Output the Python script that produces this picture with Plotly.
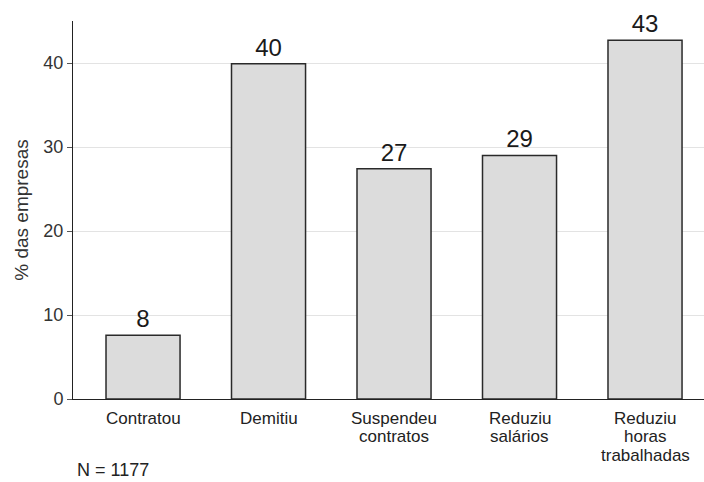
import plotly.graph_objects as go

categories = ["Contratou", "Demitiu", "Suspendeu<br>contratos", "Reduziu<br>salários", "Reduziu<br>horas<br>trabalhadas"]
values = [7.6, 39.9, 27.4, 29.0, 42.7]
labels = ["8", "40", "27", "29", "43"]
y_ticks = [0, 10, 20, 30, 40]
note = "N = 1177"
y_title = "% das empresas"

FONT = "Arial, Liberation Sans, sans-serif"

fig = go.Figure()
fig.add_trace(go.Bar(
    x=list(range(len(categories))),
    y=values,
    width=0.59,
    marker=dict(color="#dcdcdc", line=dict(color="#2a2a2a", width=1.5)),
    text=labels,
    textposition="outside",
    textfont=dict(size=24, color="#1a1a1a", family=FONT),
    cliponaxis=False,
    hoverinfo="skip",
))

# category labels, one annotation per line for tighter line spacing
annotations = []
for i, cat in enumerate(categories):
    for j, line in enumerate(cat.split("<br>")):
        annotations.append(dict(
            text=line, xref="x", yref="paper", x=i, y=0,
            xanchor="center", yanchor="middle",
            yshift=-(19 + j * 18.5), showarrow=False,
            font=dict(size=17, color="#222222"),
        ))
annotations.append(dict(
    text=note, xref="paper", yref="paper",
    x=0.003, y=-0.219, xanchor="left", yanchor="bottom",
    showarrow=False, font=dict(size=18, color="#222222"),
))

fig.update_layout(
    width=704, height=482,
    margin=dict(l=73, r=0, t=21, b=83, autoexpand=False),
    paper_bgcolor="white", plot_bgcolor="white",
    font=dict(family=FONT, color="#222222", size=17),
    showlegend=False,
    xaxis=dict(
        range=[-0.558, 4.47],
        tickmode="array",
        tickvals=list(range(len(categories))),
        showticklabels=False,
        showline=True, linecolor="#222222", linewidth=1,
        ticks="", showgrid=False, zeroline=False,
        automargin=False,
    ),
    yaxis=dict(
        range=[0, 45],
        tickmode="array",
        tickvals=y_ticks,
        showline=True, linecolor="#222222", linewidth=1,
        ticks="outside", ticklen=5, tickcolor="#555555",
        showgrid=True, gridcolor="#e3e3e3", gridwidth=1,
        zeroline=False,
        tickfont=dict(size=18, color="#333333"),
        title=dict(text=y_title, font=dict(size=19, color="#333333"), standoff=9),
        automargin=False,
    ),
    annotations=annotations,
)

fig.write_html(
    "out.html",
    config={"displayModeBar": False},
    post_script="document.body.style.margin='0';document.body.style.padding='0';",
)
